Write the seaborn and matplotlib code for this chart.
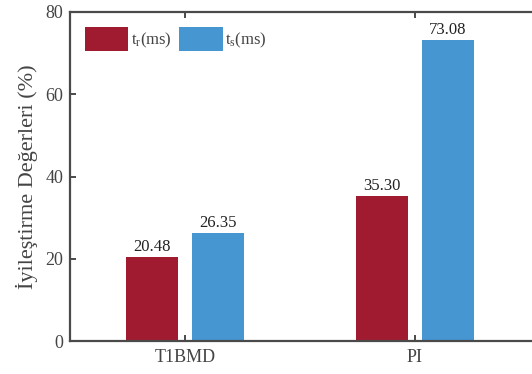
import matplotlib
matplotlib.use("Agg")
import matplotlib.pyplot as plt
import seaborn as sns
import pandas as pd
from matplotlib.patches import Patch

# Data
methods = ["T1BMD", "PI"]
series = ["t_r", "t_s"]
t_r = [20.48, 35.30]
t_s = [26.35, 73.08]
yticks = [0, 20, 40, 60, 80]

df = pd.DataFrame({
    "method": methods * 2,
    "metric": [series[0]] * len(methods) + [series[1]] * len(methods),
    "value": t_r + t_s,
})

sns.set_theme(style="white")
plt.rcParams["font.family"] = ["Liberation Serif", "DejaVu Serif"]
plt.rcParams["mathtext.fontset"] = "custom"
plt.rcParams["mathtext.rm"] = "Liberation Serif"
plt.rcParams["mathtext.it"] = "Liberation Serif:italic"

text_col = "#444444"
spine_col = "#4a4a4a"
palette = {"t_r": "#A11B30", "t_s": "#4596D1"}

fig = plt.figure(figsize=(5.32, 3.74), dpi=100)
ax = fig.add_axes([70 / 532, 33 / 374, 1 - 70 / 532, 329 / 374])

sns.barplot(data=df, x="method", y="value", hue="metric", order=methods,
            hue_order=series, palette=palette, width=0.57, gap=0.2,
            saturation=1, edgecolor="none", legend=False, ax=ax)

for cont in ax.containers:
    ax.bar_label(cont, fmt="%.2f", padding=1.5, fontsize=12, color="#222222")

ax.set_ylim(0, 80)
ax.set_xlim(-0.5, 1.509)
ax.set_yticks(yticks)
ax.set_xlabel("")
ax.set_ylabel("İyileştirme Değerleri (%)", fontsize=16, color=text_col, labelpad=5)

for side in ["left", "bottom", "top"]:
    ax.spines[side].set_visible(True)
    ax.spines[side].set_color(spine_col)
    ax.spines[side].set_linewidth(1.6)
ax.spines["right"].set_visible(False)

ax.tick_params(axis="both", direction="in", length=4, width=1.4, color=spine_col,
               labelsize=13, labelcolor=text_col)
ax.tick_params(axis="x", top=True, bottom=True, pad=6)
ax.tick_params(axis="y", left=True, right=False, pad=5)

handles = [Patch(facecolor=palette["t_r"], edgecolor="none"),
           Patch(facecolor=palette["t_s"], edgecolor="none")]
labels = [r"t$_\mathrm{r}$(ms)", r"t$_\mathrm{s}$(ms)"]
ax.legend(handles, labels, loc="upper left", ncol=2, frameon=False,
          fontsize=12, handlelength=2.6, handleheight=1.8, handletextpad=0.15,
          columnspacing=0.45, borderaxespad=0.5, bbox_to_anchor=(0.0, 1.0),
          labelcolor=text_col)

fig.savefig("out.png", dpi=100)
